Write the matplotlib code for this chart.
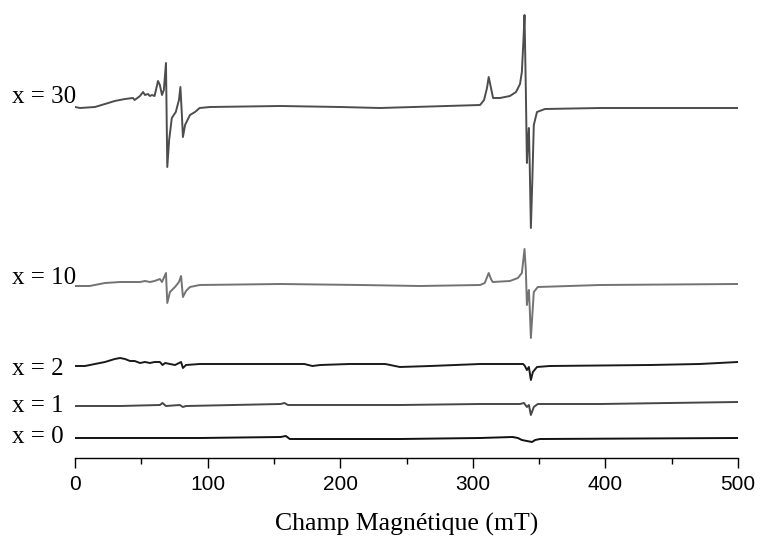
import matplotlib
matplotlib.use("Agg")
import matplotlib.pyplot as plt
from matplotlib.ticker import MultipleLocator
import matplotlib.transforms as mtransforms

# ---- data (field in mT, intensity in arbitrary units relative to each trace baseline) ----
labels = ["x = 30", "x = 10", "x = 2", "x = 1", "x = 0"]
offsets = [351, 172, 92, 52, 20]
label_shift = [10, 8, -3, 0, 1]
colors = ["#4d4d4d", "#737373", "#1a1a1a", "#474747", "#111111"]

field_30 = [0, 3.8, 15, 22.6, 30, 37.7, 43.7, 45, 49, 51.3, 52.8, 55, 56.5, 58, 60, 62.6, 64,
            65.6, 67, 68.6, 69.6, 71, 73, 76, 78.4, 79.5, 80.6, 81.4, 83, 86.7, 90.5, 94, 102,
            155, 200, 230, 305.5, 308.5, 310.7, 312, 313.7, 315.3, 320.5, 328, 332.6, 335.6,
            337, 338.2, 339, 340, 340.8, 341.6, 342.3, 343, 343.8, 344.9, 346, 348.4, 354.4,
            396, 500]
inten_30 = [0, -1, 0, 3, 6, 8, 9, 7, 11, 15, 12, 13, 11, 12, 11, 26, 22,
            12, 17, 44, -60, -33, -11, -5, 7, 20, -8, -30, -18, -8, -5, -1, 0,
            1, 0, -1, 2, 7, 19, 30, 19, 9, 9, 11, 15, 23,
            35, 67, 92, 17, -56, -33, -21, -63, -121, -73, -18, -5, -2,
            -1, -1]

field_10 = [0, 11, 22.6, 34, 49, 52.8, 56.5, 60, 64, 65.6, 68.6, 69.6, 71.6, 75.4, 78.4, 80,
            81.4, 83.7, 86.7, 94, 155, 215, 260, 305.5, 309, 312, 313.7, 315, 328, 334, 337,
            339, 340, 340.8, 341.6, 342.3, 343, 343.8, 344.9, 346, 349, 396, 500]
inten_10 = [0, 0, 3, 4, 4, 5, 4, 5, 7, 4, 13, -17, -6, -1, 4, 10,
            -11, -5, -1, 1, 2, 1, 0, 1, 3, 13, 7, 4, 5, 8, 13,
            37, 16, -19, -9, -4, -24, -52, -29, -6, -1, 1, 2]

field_2 = [0, 7.5, 15, 22.6, 30, 34, 37.7, 41.5, 45, 49, 52.8, 56.5, 60, 64, 66, 68, 71.6,
           75.4, 80, 81.4, 83.7, 94, 132, 155, 173, 179, 185, 207, 234, 245, 268, 305.5,
           328, 338, 339.3, 340.8, 342.3, 343.8, 345.3, 348.4, 358, 433.6, 471, 500]
inten_2 = [0, 0, 2, 4, 7, 8, 7, 5, 5, 3, 4, 3, 4, 4, 1, 3, 2,
           1, 4, -2, 1, 2, 2, 2, 2, 0, 1, 2, 2, -1, 0, 2,
           2, 2, 0, -4, -1, -14, -6, -1, 0, 1, 2, 4]

field_1 = [0, 34, 64, 66, 68.6, 79, 81.4, 83.7, 155, 158, 160.6, 245, 305.5, 335.6, 338.6,
           340.8, 342.3, 343.8, 346, 349, 396, 500]
inten_1 = [0, 0, 1, 3, 0, 1, -1, 0, 2, 3, 1, 1, 2, 2, 3,
           -1, 1, -9, -1, 2, 2, 4]

field_0 = [0, 94, 155, 159, 162, 245, 305.5, 330, 334, 337, 340.8, 344.7, 347, 350.7, 500]
inten_0 = [0, 0, 1, 2, -1, -1, 0, 1, 0, -2, -3, -4, -2, -1, 0]

fields = [field_30, field_10, field_2, field_1, field_0]
intens = [inten_30, inten_10, inten_2, inten_1, inten_0]

xticks = [0, 100, 200, 300, 400, 500]
xlabel = "Champ Magnétique (mT)"

# ---- figure ----
fig = plt.figure(figsize=(7.6, 5.36), dpi=100)
ax = fig.add_axes([75 / 760, 78 / 536, 663 / 760, 458 / 536])

for f, v, off, c in zip(fields, intens, offsets, colors):
    ax.plot(f, [off + y for y in v], color=c, lw=1.4, solid_joinstyle="round")

ax.set_xlim(0, 500)
ax.set_ylim(0, 458)
for s in ["top", "left", "right"]:
    ax.spines[s].set_visible(False)
ax.spines["bottom"].set_linewidth(1.0)
ax.set_yticks([])
ax.set_xticks(xticks)
ax.set_xticklabels([str(t) for t in xticks], fontfamily="Liberation Sans", fontsize=15)
ax.xaxis.set_minor_locator(MultipleLocator(50))
ax.tick_params(axis="x", which="major", length=7, width=1.0, pad=5.5, direction="out")
ax.tick_params(axis="x", which="minor", length=4, width=1.0, direction="out")
ax.set_xlabel(xlabel, fontfamily="Liberation Serif", fontsize=18.5, labelpad=13)

trans = mtransforms.blended_transform_factory(ax.transAxes, ax.transData)
for lab, off, sh in zip(labels, offsets, label_shift):
    ax.text(-0.095, off + sh, lab, transform=trans, ha="left", va="center",
            fontfamily="Liberation Serif", fontsize=18, clip_on=False)

fig.savefig("out.png", dpi=100)
